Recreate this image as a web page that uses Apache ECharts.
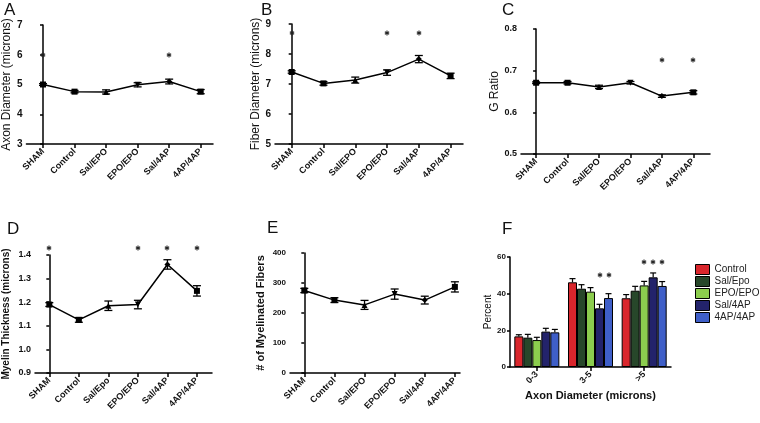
<!DOCTYPE html>
<html><head><meta charset="utf-8">
<script src="https://cdn.jsdelivr.net/npm/echarts@6/dist/echarts.min.js"></script>
<style>html,body{margin:0;padding:0;background:#fff}#c{width:760px;height:423px}</style>
</head><body><div id="c"></div><script>
// ---------- data ----------
const groupsUpper = ['SHAM','Control','Sal/EPO','EPO/EPO','Sal/4AP','4AP/4AP'];
const groupsD = ['SHAM','Control','Sal/Epo','EPO/EPO','Sal/4AP','4AP/4AP'];

const axonMean = [5.00, 4.76, 4.75, 4.99, 5.10, 4.76];
const axonErr  = [0.03, 0.04, 0.07, 0.07, 0.08, 0.07];
const axonStar = [6.0, null, null, null, 6.0, null];
const axonTicks = [3, 4, 5, 6, 7];

const fiberMean = [7.40, 7.02, 7.13, 7.38, 7.83, 7.27];
const fiberErr  = [0.04, 0.06, 0.10, 0.09, 0.12, 0.09];
const fiberStar = [8.7, null, null, 8.7, 8.7, null];
const fiberTicks = [5, 6, 7, 8, 9];

const gMean = [0.671, 0.671, 0.661, 0.671, 0.639, 0.648];
const gErr  = [0.002, 0.003, 0.004, 0.003, 0.003, 0.004];
const gStar = [null, null, null, null, 0.726, 0.726];
const gTicks = [0.5, 0.6, 0.7, 0.8];

const myelinMean = [1.190, 1.125, 1.185, 1.190, 1.360, 1.248];
const myelinErr  = [0.008, 0.010, 0.020, 0.018, 0.020, 0.022];
const myelinStar = [1.43, null, null, 1.43, 1.43, 1.43];
const myelinTicks = [0.9, 1.0, 1.1, 1.2, 1.3, 1.4];

const fibersMean = [275, 243, 227, 263, 243, 287];
const fibersErr  = [7, 8, 15, 17, 13, 17];
const fibersStar = [null, null, null, null, null, null];
const fibersTicks = [0, 100, 200, 300, 400];

const bins = ['0-3', '3-5', '>5'];
const binGroups = ['Control', 'Sal/Epo', 'EPO/EPO', 'Sal/4AP', '4AP/4AP'];
const pctControl = [16.7, 46.2, 37.5];
const pctSalEpo  = [16.0, 42.7, 41.6];
const pctEpoEpo  = [14.7, 41.1, 44.5];
const pctSal4ap  = [19.3, 32.0, 48.9];
const pct4ap4ap  = [18.9, 37.6, 44.2];
const errControl = [0.9, 2.0, 2.0];
const errSalEpo  = [1.8, 2.2, 2.4];
const errEpoEpo  = [1.5, 2.2, 2.2];
const errSal4ap  = [1.8, 2.2, 2.4];
const err4ap4ap  = [1.6, 2.4, 2.4];
const starControl = [null, null, null];
const starSalEpo  = [null, null, null];
const starEpoEpo  = [null, null, 57.1];
const starSal4ap  = [null, 50.4, 57.1];
const star4ap4ap  = [null, 50.4, 57.1];
const pctTicks = [0, 20, 40, 60];

// ---------- style ----------
const FONT = '"Liberation Sans", Arial, sans-serif';
const NARROW = '"Liberation Sans Narrow", "Liberation Sans", Arial, sans-serif';
const barColors = ['#d9262c', '#27472a', '#8ccd4e', '#23236b', '#3f5fc8'];
const shapes = ['rect', 'rect', 'triangle', 'path://M0,0 L10,0 L5,10 Z', 'diamond', 'rect'];
const BAR_W = 9;

const pctAll = [pctControl, pctSalEpo, pctEpoEpo, pctSal4ap, pct4ap4ap];
const errAll = [errControl, errSalEpo, errEpoEpo, errSal4ap, err4ap4ap];
const starAll = [starControl, starSalEpo, starEpoEpo, starSal4ap, star4ap4ap];

const panels = [
  {cats: groupsUpper, mean: axonMean, err: axonErr, star: axonStar, ticks: axonTicks, dec: 0, tickSize: 10,
   grid: {left: 25, top: 25, width: 188, height: 119}, xmin: -0.525, xmax: 5.39,
   name: 'Axon Diameter (microns)', nameGap: 9, nameSize: 12, nameWeight: 'normal'},
  {cats: groupsUpper, mean: fiberMean, err: fiberErr, star: fiberStar, ticks: fiberTicks, dec: 0, tickSize: 10,
   grid: {left: 275, top: 24, width: 188, height: 120}, xmin: -0.525, xmax: 5.39,
   name: 'Fiber Diameter (microns)', nameGap: 4, nameSize: 12, nameWeight: 'normal'},
  {cats: groupsUpper, mean: gMean, err: gErr, star: gStar, ticks: gTicks, dec: 1, tickSize: 9,
   grid: {left: 521, top: 29, width: 189, height: 125}, xmin: -0.48, xmax: 5.53,
   name: 'G Ratio', nameGap: 8, nameSize: 12, nameWeight: 'normal'},
  {cats: groupsD, mean: myelinMean, err: myelinErr, star: myelinStar, ticks: myelinTicks, dec: 1, tickSize: 9,
   grid: {left: 35, top: 255, width: 177, height: 118}, xmin: -0.485, xmax: 5.51,
   name: 'Myelin Thickness (microns)', nameGap: 24, nameSize: 10, nameWeight: 'bold'},
  {cats: groupsUpper, mean: fibersMean, err: fibersErr, star: fibersStar, ticks: fibersTicks, dec: 0, tickSize: 8,
   grid: {left: 290, top: 253, width: 170, height: 120}, xmin: -0.475, xmax: 5.17,
   name: '# of Myelinated Fibers', nameGap: 24, nameSize: 11, nameWeight: 'bold'}
];

const grids = [], xAxes = [], yAxes = [], series = [];
const axisLine = {show: true, lineStyle: {color: '#000', width: 1.5}};

function errBar(params, api) {
  const x = api.value(0), m = api.value(1), e = api.value(2);
  const hi = api.coord([x, m + e]), lo = api.coord([x, m - e]);
  const cw = 4, st = {stroke: '#000', lineWidth: 1.3};
  return {type: 'group', children: [
    {type: 'line', shape: {x1: hi[0], y1: hi[1], x2: lo[0], y2: lo[1]}, style: st},
    {type: 'line', shape: {x1: hi[0] - cw, y1: hi[1], x2: hi[0] + cw, y2: hi[1]}, style: st},
    {type: 'line', shape: {x1: lo[0] - cw, y1: lo[1], x2: lo[0] + cw, y2: lo[1]}, style: st}
  ]};
}

panels.forEach((p, k) => {
  grids.push(Object.assign({containLabel: false}, p.grid));
  xAxes.push({type: 'value', gridIndex: k, min: p.xmin, max: p.xmax,
    axisLine: axisLine, splitLine: {show: false},
    axisTick: {show: true, customValues: p.cats.map((c, i) => i), length: 4, lineStyle: {color: '#000', width: 1.5}},
    axisLabel: {customValues: p.cats.map((c, i) => i), formatter: v => p.cats[v], rotate: 45, margin: 6,
      fontFamily: NARROW, fontSize: 9, fontWeight: 'bold', color: '#111'}});
  yAxes.push({type: 'value', gridIndex: k, min: p.ticks[0], max: p.ticks[p.ticks.length - 1],
    axisLine: axisLine, splitLine: {show: false},
    axisTick: {show: true, customValues: p.ticks, length: 3, lineStyle: {color: '#000', width: 1.5}},
    axisLabel: {customValues: p.ticks, formatter: v => v.toFixed(p.dec), margin: 4,
      fontFamily: FONT, fontSize: p.tickSize, fontWeight: 'bold', color: '#111'},
    name: p.name, nameLocation: 'middle', nameGap: p.nameGap,
    nameTextStyle: {fontFamily: FONT, fontSize: p.nameSize, fontWeight: p.nameWeight, color: '#111'}});
  series.push({type: 'custom', xAxisIndex: k, yAxisIndex: k, renderItem: errBar,
    data: p.mean.map((v, i) => [i, v, p.err[i]]), z: 3});
  series.push({type: 'line', xAxisIndex: k, yAxisIndex: k,
    data: p.mean.map((v, i) => ({value: [i, v], symbol: shapes[i]})),
    symbolSize: 6, lineStyle: {color: '#000', width: 1.5}, itemStyle: {color: '#000'}, z: 4});
});

// Panel F
grids.push({left: 510, top: 257, width: 161, height: 110});
xAxes.push({type: 'category', gridIndex: 5, data: bins, axisLine: axisLine,
  axisTick: {show: true, alignWithLabel: true, length: 4, lineStyle: {color: '#000', width: 1.5}},
  axisLabel: {rotate: 45, margin: 6, fontFamily: NARROW, fontSize: 9, fontWeight: 'bold', color: '#111'},
  name: 'Axon Diameter (microns)', nameLocation: 'middle', nameGap: 23,
  nameTextStyle: {fontFamily: FONT, fontSize: 11, fontWeight: 'bold', color: '#111'}});
yAxes.push({type: 'value', gridIndex: 5, min: pctTicks[0], max: pctTicks[pctTicks.length - 1],
  axisLine: axisLine, splitLine: {show: false},
  axisTick: {show: true, customValues: pctTicks, length: 3, lineStyle: {color: '#000', width: 1.5}},
  axisLabel: {customValues: pctTicks, margin: 4, fontFamily: FONT, fontSize: 8, fontWeight: 'bold', color: '#111'},
  name: 'Percent', nameLocation: 'middle', nameGap: 17,
  nameTextStyle: {fontFamily: FONT, fontSize: 10, color: '#111'}});
binGroups.forEach((g, s) => {
  series.push({type: 'bar', name: g, xAxisIndex: 5, yAxisIndex: 5, data: pctAll[s],
    barWidth: BAR_W, barGap: '0%', itemStyle: {color: barColors[s], borderColor: '#000', borderWidth: 1}});
});
const fErr = [];
binGroups.forEach((g, s) => bins.forEach((b, i) => {
  fErr.push([i, pctAll[s][i], errAll[s][i], (s - 2) * BAR_W]);
}));
series.push({type: 'custom', xAxisIndex: 5, yAxisIndex: 5, z: 5, data: fErr,
  renderItem: (params, api) => {
    const x = api.value(0), m = api.value(1), e = api.value(2), dx = api.value(3);
    const base = api.coord([x, m]), hi = api.coord([x, m + e]);
    const cx = base[0] + dx, st = {stroke: '#000', lineWidth: 1.2};
    return {type: 'group', children: [
      {type: 'line', shape: {x1: cx, y1: base[1], x2: cx, y2: hi[1]}, style: st},
      {type: 'line', shape: {x1: cx - 3, y1: hi[1], x2: cx + 3, y2: hi[1]}, style: st}
    ]};
  }});

const letters = [['A', 4, 2], ['B', 261, 2], ['C', 502, 2], ['D', 7, 221], ['E', 267, 220], ['F', 502, 221]];

const chart = echarts.init(document.getElementById('c'));
chart.setOption({
  animation: false,
  backgroundColor: '#fff',
  grid: grids, xAxis: xAxes, yAxis: yAxes, series: series,
  legend: {data: binGroups, orient: 'vertical', left: 695, top: 264, padding: 0, itemWidth: 14, itemHeight: 10, itemGap: 1,
    icon: 'rect', textStyle: {fontFamily: FONT, fontSize: 10, color: '#222'}, itemStyle: {borderColor: '#000', borderWidth: 1}}
});

// significance asterisks (small 6-spoke marks), positioned through each grid's scales
const extraGraphics = [];
function addStar(pt) {
  const cx = Math.round(pt[0]), cy = Math.round(pt[1]), r = 2.5;
  const st = {stroke: '#222', lineWidth: 1.1};
  [90, 30, 150].forEach(a => {
    const dx = r * Math.cos(a * Math.PI / 180), dy = r * Math.sin(a * Math.PI / 180);
    extraGraphics.push({type: 'line', z: 100, shape: {x1: cx - dx, y1: cy - dy, x2: cx + dx, y2: cy + dy}, style: st});
  });
}
panels.forEach((p, k) => p.star.forEach((v, i) => {
  if (v != null) addStar(chart.convertToPixel({xAxisIndex: k, yAxisIndex: k}, [i, v]));
}));
starAll.forEach((arr, s) => arr.forEach((v, i) => {
  if (v != null) {
    const pt = chart.convertToPixel({xAxisIndex: 5, yAxisIndex: 5}, [i, v]);
    addStar([pt[0] + (s - 2) * BAR_W, pt[1]]);
  }
}));
letters.forEach(l => extraGraphics.push({type: 'text', left: l[1], top: l[2],
  style: {text: l[0], font: '17px ' + FONT, fill: '#111'}}));
chart.setOption({graphic: extraGraphics});
</script></body></html>
